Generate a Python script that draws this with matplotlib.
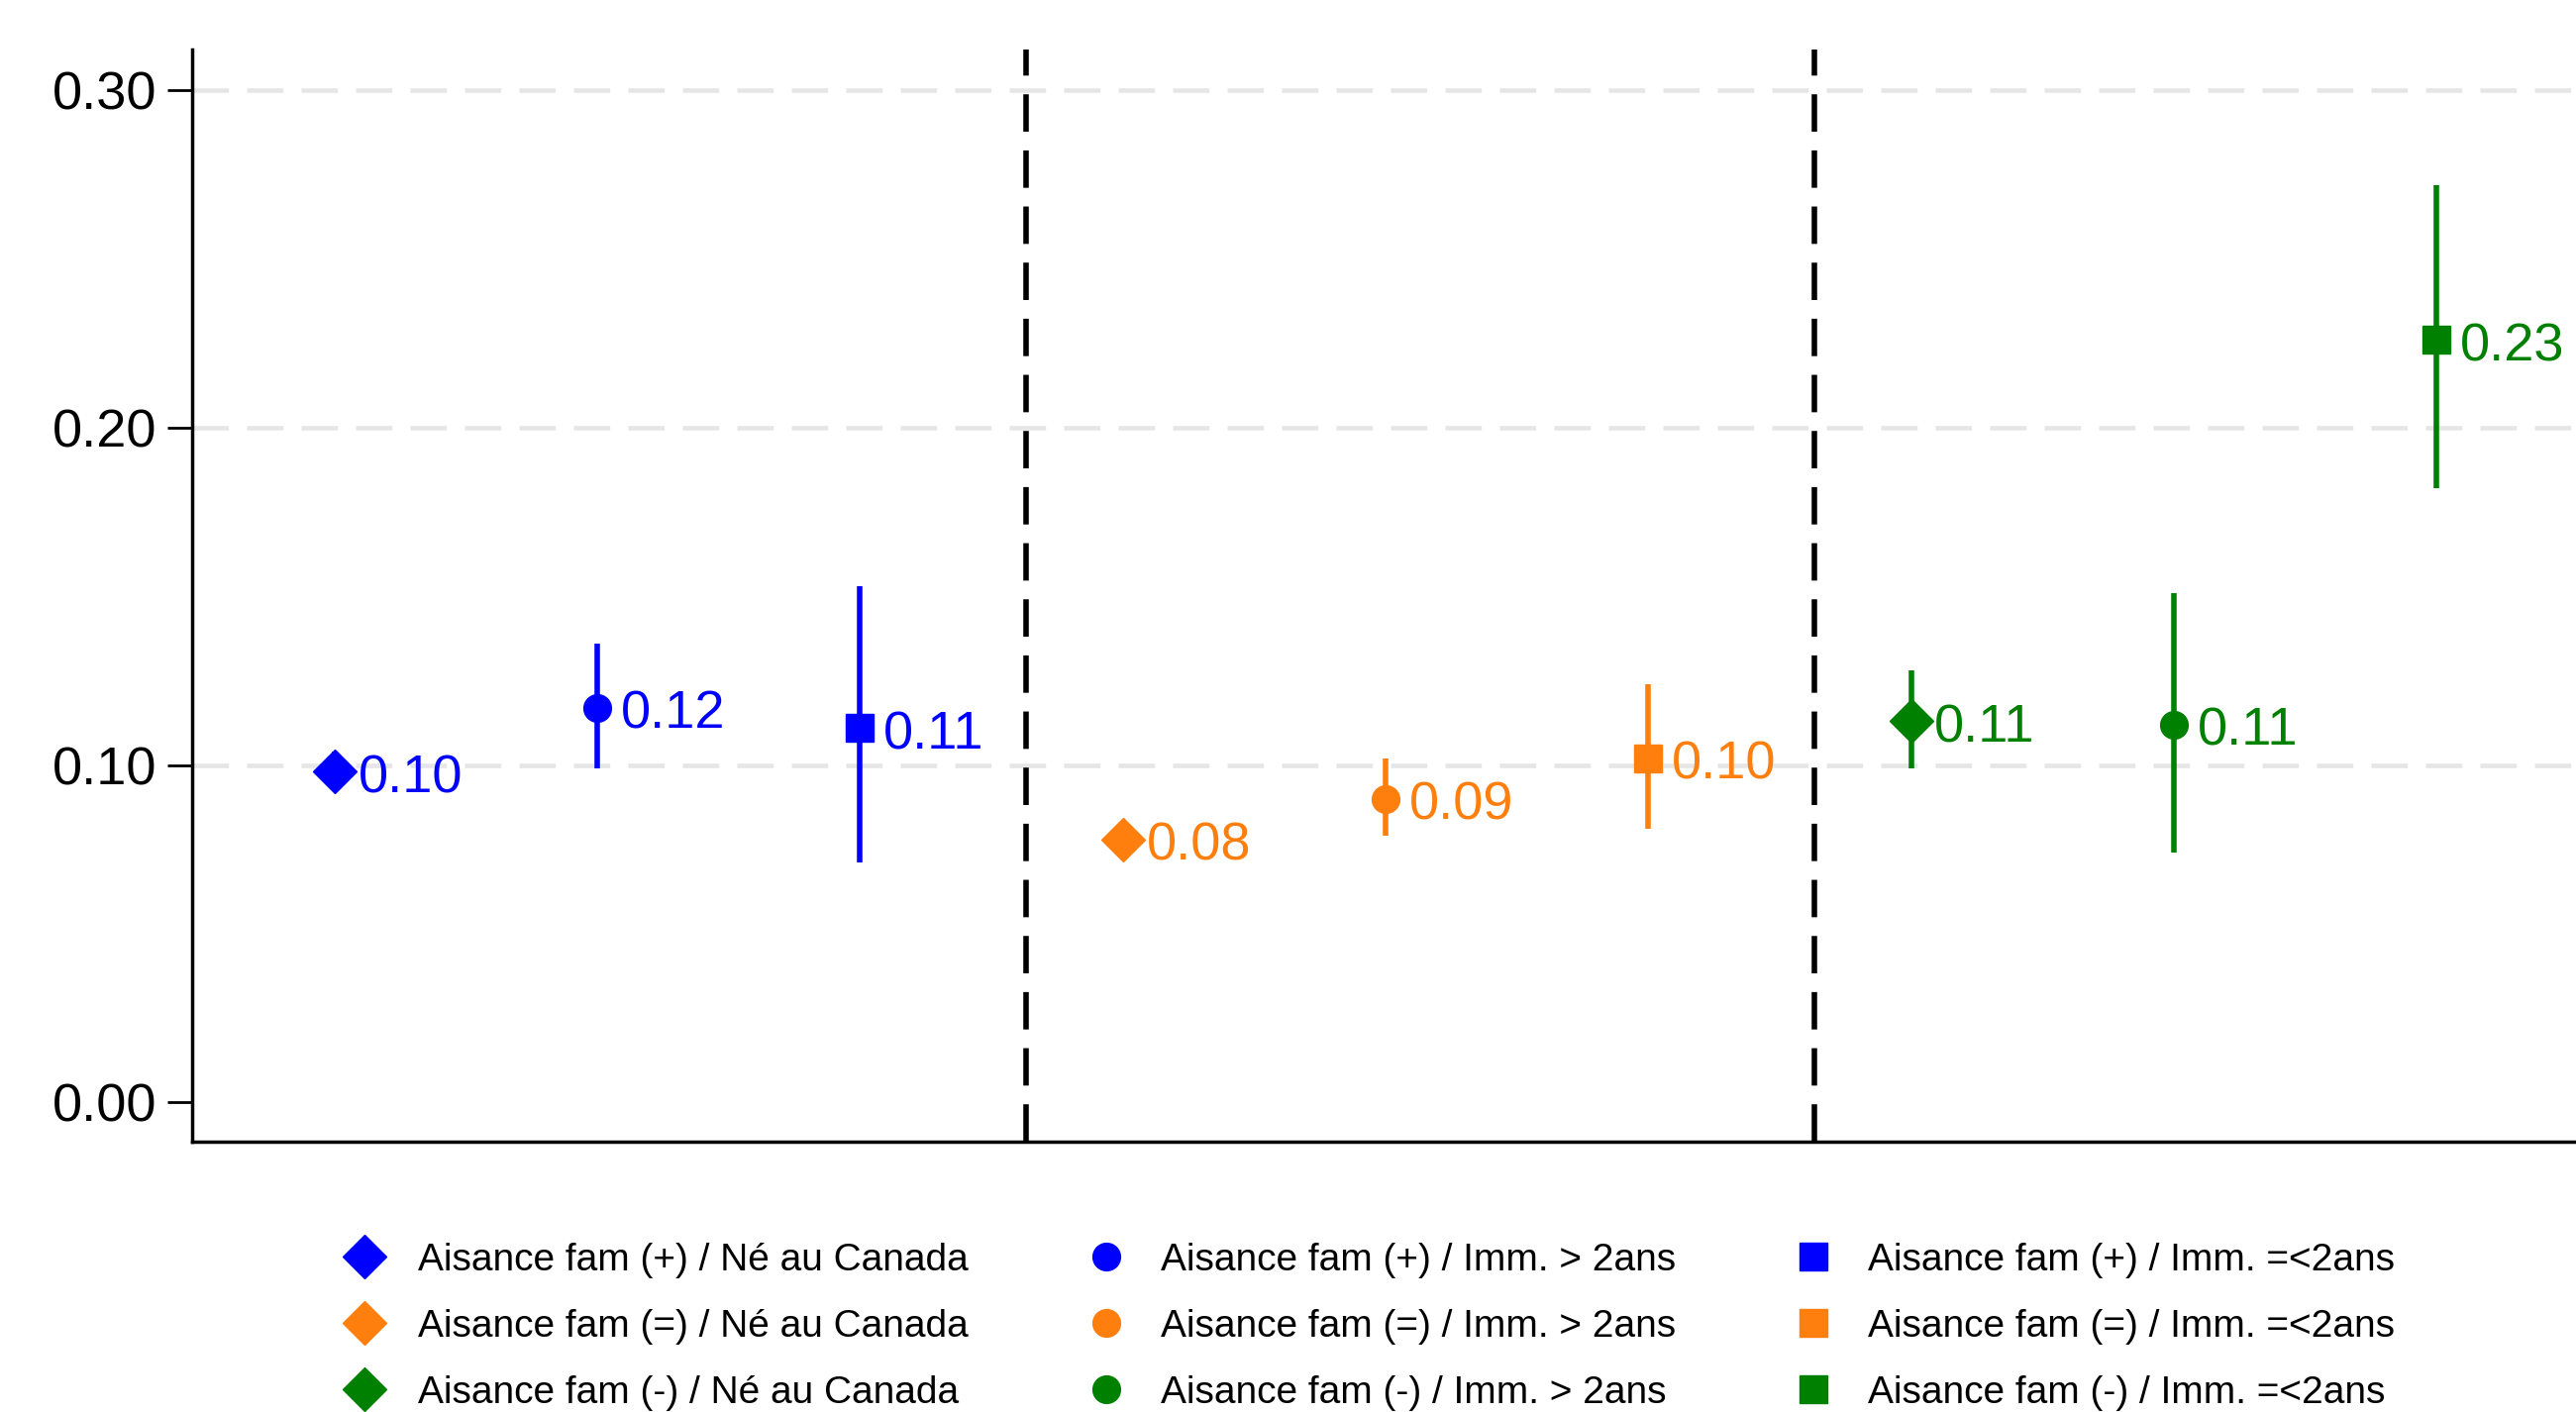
import matplotlib
matplotlib.use("Agg")
import matplotlib.pyplot as plt
from matplotlib import font_manager

# font: narrow helvetica look if available
names = set(f.name for f in font_manager.fontManager.ttflist)
fam = 'Liberation Sans Narrow' if 'Liberation Sans Narrow' in names else 'Liberation Sans'
plt.rcParams['font.family'] = [fam, 'DejaVu Sans']

# data
groups = ['Aisance fam (+)', 'Aisance fam (=)', 'Aisance fam (-)']
origins = ['Né au Canada', 'Imm. > 2ans', 'Imm. =<2ans']
colors = ['#0000ff', '#ff7f0e', '#008000']
markers = ['D', 'o', 's']

estimates = [[0.098, 0.117, 0.111],
             [0.078, 0.090, 0.102],
             [0.113, 0.112, 0.226]]
ci_low = [[0.093, 0.099, 0.071],
          [0.075, 0.079, 0.081],
          [0.099, 0.074, 0.182]]
ci_high = [[0.104, 0.136, 0.153],
           [0.081, 0.102, 0.124],
           [0.128, 0.151, 0.272]]
labels = [['0.10', '0.12', '0.11'],
          ['0.08', '0.09', '0.10'],
          ['0.11', '0.11', '0.23']]

fig = plt.figure(figsize=(26.01, 14.26), dpi=100)
ax = fig.add_axes([0.0746, 0.1914, 0.9254, 0.7736])

handles = {}
for g in range(3):
    for o in range(3):
        x = g * 3 + o + 1
        y = estimates[g][o]
        ax.plot([x, x], [ci_low[g][o], ci_high[g][o]], color=colors[g], lw=4,
                solid_capstyle='butt', zorder=3)
        h, = ax.plot([x], [y], marker=markers[o], ms=22 if markers[o] == 'D' else 20,
                     color=colors[g], ls='none', zorder=4)
        handles[(g, o)] = h
        ax.annotate(labels[g][o], (x, y), xytext=(17, -5), textcoords='offset points',
                    ha='left', va='center', fontsize=39, color=colors[g])

for yv in [0.1, 0.2, 0.3]:
    ax.axhline(yv, color='#e6e6e6', lw=3.3, ls=(0, (8, 4)), zorder=1)
for xv in [3.63, 6.63]:
    ax.axvline(xv, color='black', lw=4, ls=(0, (6.8, 3.4)), zorder=2)

ax.set_xlim(0.458, 9.53)
ax.set_ylim(-0.0117, 0.3122)
ax.set_yticks([0, 0.1, 0.2, 0.3])
ax.set_yticklabels(['0.00', '0.10', '0.20', '0.30'])
ax.tick_params(axis='y', length=18, width=2, pad=8, labelsize=39)
ax.set_xticks([])
for s in ['top', 'right']:
    ax.spines[s].set_visible(False)
for s in ['left', 'bottom']:
    ax.spines[s].set_linewidth(2.5)

leg_h = []
leg_l = []
for o in range(3):
    for g in range(3):
        leg_h.append(handles[(g, o)])
        leg_l.append(groups[g] + ' / ' + origins[o])
fig.legend(leg_h, leg_l, ncol=3, loc='upper left', bbox_to_anchor=(0.128, 0.131),
           frameon=False, fontsize=28, handlelength=1.0, handletextpad=0.9,
           columnspacing=3.08, labelspacing=0.8, markerscale=1.0, borderaxespad=0)

fig.savefig('out.png', dpi=100)
